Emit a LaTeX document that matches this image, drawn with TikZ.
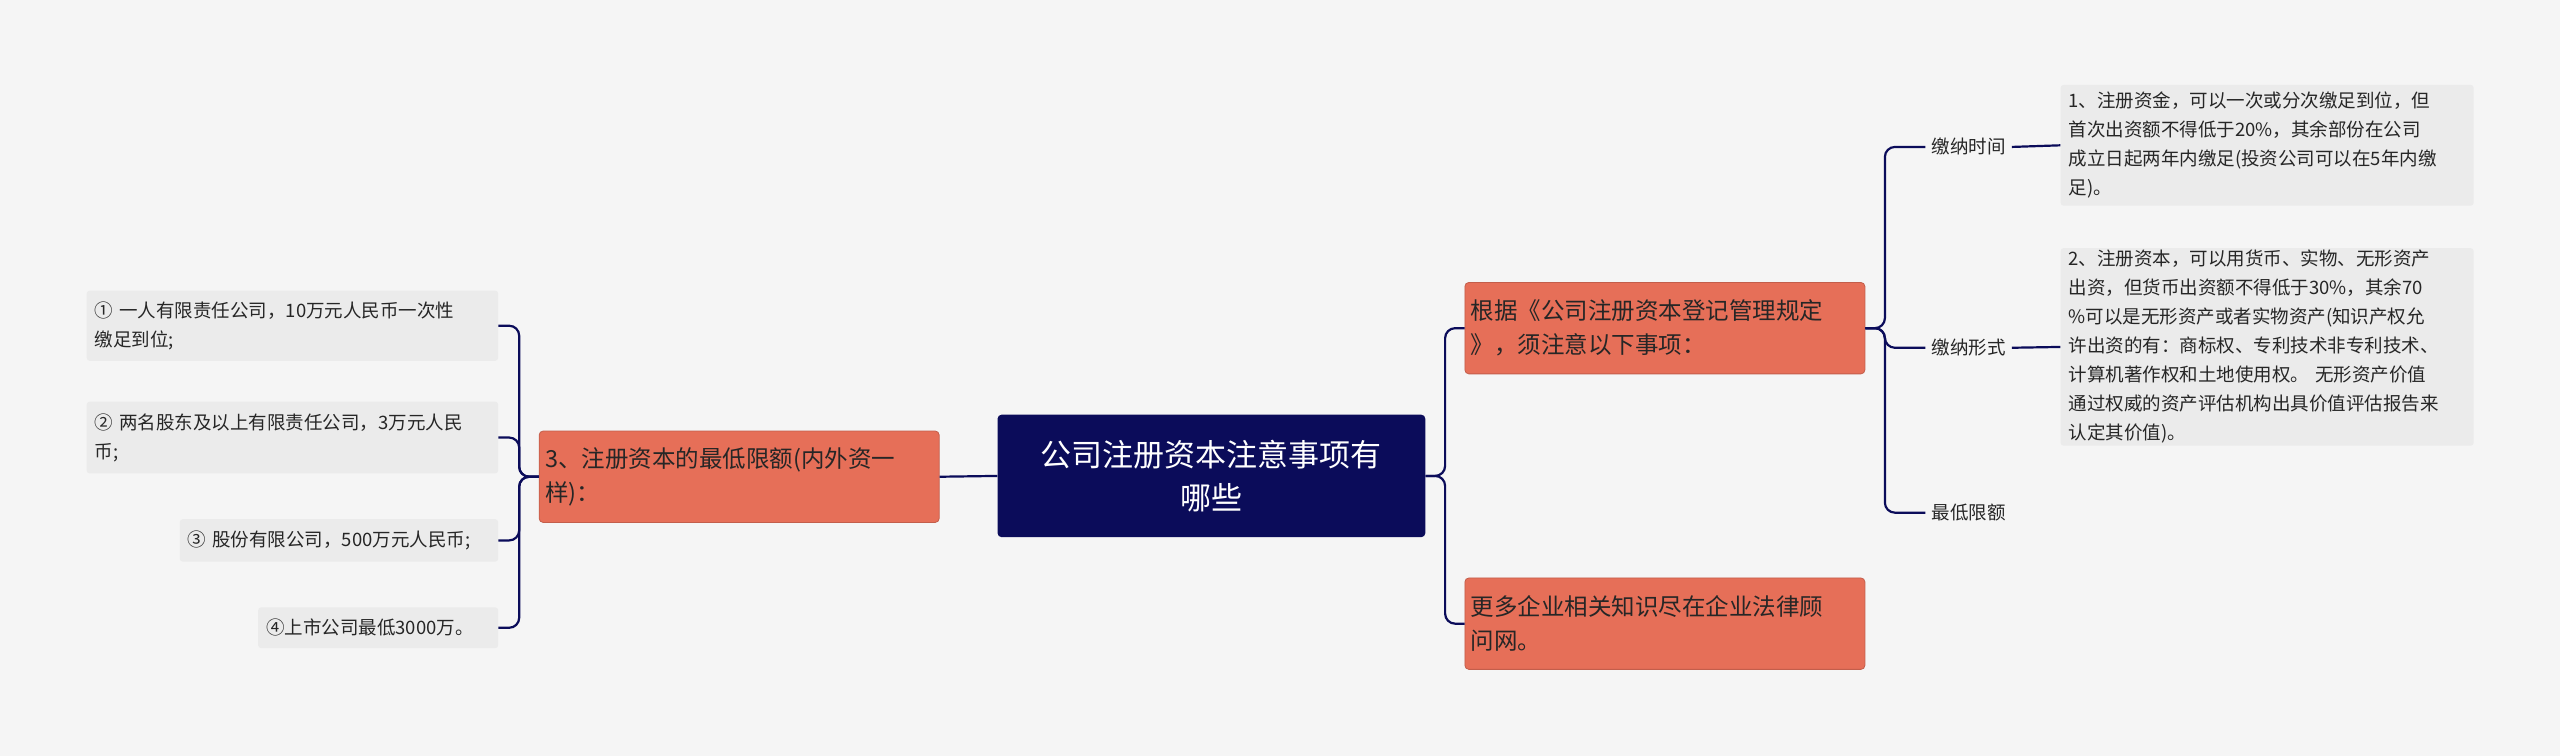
\documentclass[tikz,border=0pt]{standalone}
\usepackage{fontspec}
\setmainfont{Noto Sans CJK SC}
\begin{document}
\begin{tikzpicture}[x=1.6327pt,y=-1.6327pt,
  conn/.style={draw=black!20!blue!30!black,line width=2.2pt,rounded corners=10pt},
  leaf/.style={fill=black!8,text=black!85,anchor=west,align=left,inner sep=0pt,rounded corners=3pt,font=\fontsize{18.5}{29}\selectfont},
  mid/.style={fill=orange!60!red!70!white,draw=orange!70!red!80!black,line width=0.8pt,text=black!85,anchor=west,align=left,inner sep=0pt,rounded corners=4pt,font=\fontsize{23.5}{34}\selectfont},
  lab/.style={text=black!85,anchor=west,inner sep=0pt,font=\fontsize{18.5}{29}\selectfont}]
\definecolor{bgc}{HTML}{F5F5F5}
\definecolor{navy}{HTML}{0B0C5A}
\definecolor{salmon}{HTML}{E66F58}
\fill[bgc] (0,0) rectangle (1568,463);
\useasboundingbox (0,0) rectangle (1568,463);
\tikzset{conn/.style={draw=navy,line width=2.2pt,rounded corners=10pt},
 mid/.append style={fill=salmon,draw=salmon!85!black}}
\node[fill=navy,text=white,align=center,rounded corners=4pt,minimum width=262*1.6327pt,minimum height=75*1.6327pt,font=\fontsize{31}{43}\selectfont] (C) at (742,291.5) {公司注册资本注意事项有\\哪些};
\node[mid,minimum height=56*1.6327pt,text width=245*1.6327pt] (L) at (330,292) {\hspace*{6pt}3、注册资本的最低限额(内外资一\\\hspace*{6pt}样)：};
\node[mid,minimum height=56*1.6327pt,text width=245*1.6327pt] (A) at (897,201) {\hspace*{6pt}根据《公司注册资本登记管理规定\\\hspace*{6pt}》，须注意以下事项：};
\node[mid,minimum height=56*1.6327pt,text width=245*1.6327pt] (B) at (897,382) {\hspace*{6pt}更多企业相关知识尽在企业法律顾\\\hspace*{6pt}问网。};
\node[leaf,minimum height=43*1.6327pt,text width=252*1.6327pt] (l1) at (53,199.5) {\hspace*{8pt}① 一人有限责任公司，10万元人民币一次性\\\hspace*{8pt}缴足到位;};
\node[leaf,minimum height=44*1.6327pt,text width=252*1.6327pt] (l2) at (53,268) {\hspace*{8pt}② 两名股东及以上有限责任公司，3万元人民\\\hspace*{8pt}币;};
\node[leaf,minimum height=26*1.6327pt,text width=195*1.6327pt] (l3) at (110,331) {\hspace*{8pt}③ 股份有限公司，500万元人民币;};
\node[leaf,minimum height=25*1.6327pt,text width=147*1.6327pt] (l4) at (158,384.5) {\hspace*{8pt}④上市公司最低3000万。};
\node[lab] (t1) at (1183,90) {缴纳时间};
\node[lab] (t2) at (1183,213) {缴纳形式};
\node[lab] (t3) at (1183,314) {最低限额};
\node[leaf,minimum height=74*1.6327pt,text width=253*1.6327pt] (r1) at (1262,89) {\hspace*{8pt}1、注册资金，可以一次或分次缴足到位，但\\\hspace*{8pt}首次出资额不得低于20\%，其余部份在公司\\\hspace*{8pt}成立日起两年内缴足(投资公司可以在5年内缴\\\hspace*{8pt}足)。};
\node[leaf,minimum height=121*1.6327pt,text width=253*1.6327pt] (r2) at (1262,212.5) {\hspace*{8pt}2、注册资本，可以用货币、实物、无形资产\\\hspace*{8pt}出资，但货币出资额不得低于30\%，其余70\\\hspace*{8pt}\%可以是无形资产或者实物资产(知识产权允\\\hspace*{8pt}许出资的有：商标权、专利技术非专利技术、\\\hspace*{8pt}计算机著作权和土地使用权。 无形资产价值\\\hspace*{8pt}通过权威的资产评估机构出具价值评估报告来\\\hspace*{8pt}认定其价值)。};
\draw[conn] (C.west) -- (L.east);
\foreach \n in {l1,l2,l3,l4} \draw[conn] (L.west) -- ++(-12,0) |- (\n.east);
\foreach \n in {A,B} \draw[conn] (C.east) -- ++(12,0) |- (\n.west);
\foreach \n in {t1,t2,t3} \draw[conn] (A.east) -- ++(12,0) |- ([xshift=-6pt]\n.west);
\draw[conn] ([xshift=6pt]t1.east) -- (r1.west);
\draw[conn] ([xshift=6pt]t2.east) -- (r2.west);
\end{tikzpicture}
\end{document}
